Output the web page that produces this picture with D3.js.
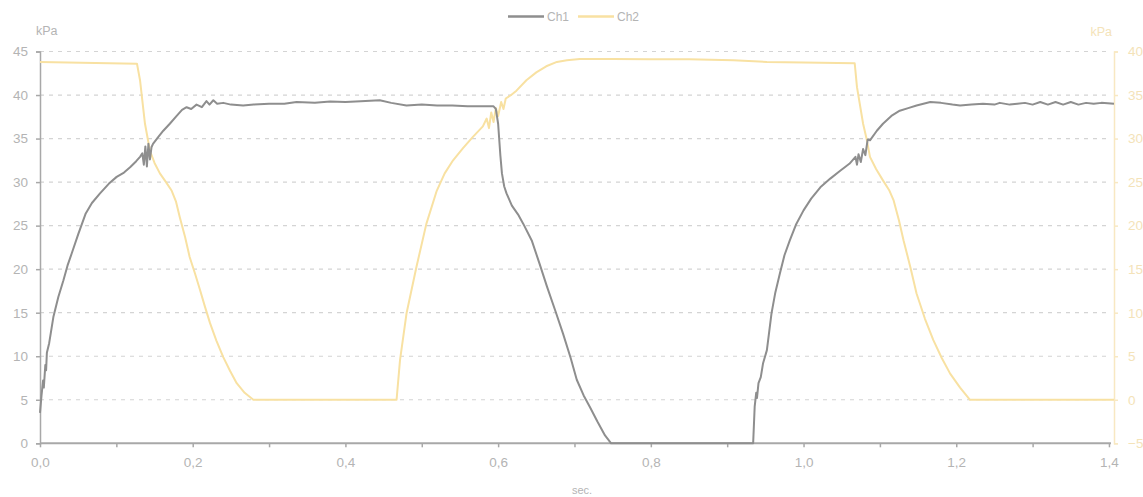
<!DOCTYPE html>
<html>
<head>
<meta charset="utf-8">
<script src="https://cdn.jsdelivr.net/npm/d3@7"></script>
<style>
  body { margin: 0; background: #fff; }
  svg { display: block; font-family: "Liberation Sans", Arial, sans-serif; }
</style>
</head>
<body>
<svg id="chart" width="1143" height="497"></svg>
<script>
// time in sec, Ch1 in kPa (left axis)
const ch1 = [
  [0, 3.5], [0.002, 5.5], [0.004, 7.2], [0.005, 6.4], [0.007, 9.0], [0.008, 8.4], [0.009, 10.4],
  [0.012, 11.5], [0.0175, 14.5], [0.024, 16.8], [0.0306, 18.7], [0.036, 20.4], [0.0415, 21.8],
  [0.05, 24.0], [0.0599, 26.4], [0.068, 27.6], [0.0786, 28.7], [0.09, 29.8], [0.1004, 30.6],
  [0.11, 31.1], [0.118, 31.7], [0.126, 32.4], [0.131, 32.9], [0.134, 33.3], [0.136, 32.0],
  [0.138, 34.1], [0.14, 31.8], [0.142, 34.4], [0.144, 32.6], [0.146, 34.0], [0.148, 34.4],
  [0.155, 35.2], [0.1615, 35.9], [0.17, 36.7], [0.179, 37.6], [0.186, 38.3], [0.192, 38.6],
  [0.198, 38.4], [0.205, 38.9], [0.212, 38.6], [0.218, 39.3], [0.222, 38.9], [0.227, 39.4],
  [0.232, 39.0], [0.24, 39.1], [0.25, 38.9], [0.266, 38.8], [0.28, 38.9], [0.3, 39.0],
  [0.32, 39.0], [0.336, 39.2], [0.36, 39.1], [0.38, 39.25], [0.4, 39.2], [0.42, 39.3],
  [0.445, 39.4], [0.46, 39.1], [0.48, 38.8], [0.5, 38.9], [0.52, 38.8], [0.54, 38.8],
  [0.56, 38.7], [0.58, 38.7], [0.594, 38.7], [0.597, 38.4], [0.6, 36.7], [0.603, 33],
  [0.605, 31], [0.608, 29.5], [0.611, 28.7], [0.618, 27.3], [0.626, 26.3], [0.633, 25.2],
  [0.644, 23.3], [0.654, 20.7], [0.664, 18], [0.675, 15.2], [0.685, 12.6], [0.695, 9.8],
  [0.703, 7.3], [0.712, 5.5], [0.72, 4.2], [0.73, 2.5], [0.74, 0.9], [0.748, 0], [0.934, 0],
  [0.936, 4.2], [0.938, 5.8], [0.939, 5.2], [0.941, 6.9], [0.944, 7.6], [0.947, 9.2],
  [0.952, 10.7], [0.958, 14.9], [0.963, 17.3], [0.969, 19.5], [0.975, 21.6], [0.982, 23.3],
  [0.99, 25.1], [1.0, 26.75], [1.01, 28.1], [1.022, 29.4], [1.035, 30.4], [1.048, 31.3],
  [1.06, 32.1], [1.068, 32.9], [1.07, 32.0], [1.072, 33.2], [1.075, 32.3], [1.078, 33.8],
  [1.081, 33.1], [1.084, 34.9], [1.087, 34.8], [1.096, 35.9], [1.104, 36.7], [1.115, 37.6],
  [1.126, 38.2], [1.137, 38.5], [1.148, 38.8], [1.157, 39.0], [1.166, 39.2], [1.18, 39.1],
  [1.195, 38.9], [1.205, 38.8], [1.22, 38.9], [1.235, 39.0], [1.25, 38.9], [1.257, 39.1],
  [1.27, 38.9], [1.28, 39.0], [1.29, 39.1], [1.3, 38.9], [1.31, 39.2], [1.32, 38.9],
  [1.33, 39.2], [1.34, 38.9], [1.35, 39.2], [1.36, 38.9], [1.37, 39.1], [1.38, 39.0],
  [1.39, 39.1], [1.4066, 39.0]
]

// time in sec, Ch2 in kPa (right axis)
const ch2 = [
  [0, 38.8], [0.127, 38.6], [0.131, 36.7], [0.1375, 31.7], [0.144, 28.6], [0.15, 27.2],
  [0.157, 26], [0.165, 25], [0.1725, 24], [0.178, 22.8], [0.183, 21], [0.19, 18.7],
  [0.196, 16.4], [0.203, 14.5], [0.2096, 12.6], [0.216, 10.7], [0.2227, 8.8], [0.231, 6.8],
  [0.24, 4.9], [0.249, 3.3], [0.2576, 1.9], [0.268, 0.8], [0.2794, 0], [0.467, 0],
  [0.4715, 4.55], [0.48, 9.9], [0.493, 15.25], [0.506, 20.2], [0.5196, 24], [0.53, 26],
  [0.541, 27.5], [0.554, 28.9], [0.567, 30.2], [0.58, 31.4], [0.585, 32.3], [0.588, 31.2],
  [0.591, 33.0], [0.594, 31.9], [0.597, 33.5], [0.6, 32.6], [0.604, 34.2], [0.607, 33.4],
  [0.61, 34.6], [0.617, 35.0], [0.624, 35.5], [0.637, 36.7], [0.65, 37.6], [0.663, 38.3],
  [0.677, 38.8], [0.69, 39.0], [0.707, 39.15], [0.75, 39.15], [0.8, 39.1], [0.85, 39.1],
  [0.908, 39.0], [0.952, 38.8], [1.0, 38.75], [1.067, 38.65], [1.07, 35.9], [1.078, 31.7],
  [1.083, 29.8], [1.087, 27.9], [1.095, 26.5], [1.104, 25.2], [1.112, 24.1], [1.118, 22.9],
  [1.125, 20.6], [1.131, 18.3], [1.14, 15.2], [1.148, 12.2], [1.159, 9.3], [1.17, 6.85],
  [1.181, 4.8], [1.192, 3.0], [1.205, 1.4], [1.218, 0], [1.4066, 0]
]

const xTicks = [0, 0.1, 0.2, 0.3, 0.4, 0.5, 0.6, 0.7, 0.8, 0.9, 1.0, 1.1, 1.2, 1.3, 1.4]
const leftTicks = [0, 5, 10, 15, 20, 25, 30, 35, 40, 45]
const rightTicks = [-5, 0, 5, 10, 15, 20, 25, 30, 35, 40]
const seriesNames = ['Ch1', 'Ch2']

const c1 = '#8e8e8e'
const c2 = '#f8e1a2'
const axisGray = '#a8a8a8'
const labelGray = '#b4b4b4'
const rightLabel = '#f4e3b9'

const svg = d3.select('#chart')
const plotLeft = 40
const plotRight = 1114
const plotTop = 51.5
const plotBottom = 443.3

const x = d3.scaleLinear().domain([0, 1.4066]).range([plotLeft, plotRight])
const yL = d3.scaleLinear().domain([0, 45]).range([plotBottom, plotTop])
const yR = d3.scaleLinear().domain([-5, 40]).range([plotBottom, plotTop])

const fmt = (d) => d3.format('.1f')(d).replace('.', ',')
const fontFam = '"Liberation Sans", Arial, sans-serif'

// grid
svg.append('g')
  .selectAll('line')
  .data(leftTicks.filter((d) => d > 0))
  .join('line')
  .attr('x1', plotLeft)
  .attr('x2', x(1.4))
  .attr('y1', (d) => yL(d))
  .attr('y2', (d) => yL(d))
  .attr('stroke', '#d4d4d4')
  .attr('stroke-width', 1.2)
  .attr('stroke-dasharray', '4,5')

// left axis
const gl = svg.append('g').attr('transform', `translate(${plotLeft},0)`)
  .call(d3.axisLeft(yL).tickValues(leftTicks).tickSize(4).tickPadding(8))
gl.select('.domain').attr('stroke', axisGray).attr('stroke-width', 1.5)
gl.selectAll('.tick line').attr('stroke', axisGray).attr('stroke-width', 1.5)
gl.selectAll('.tick text').attr('fill', labelGray).attr('font-size', 13.5).attr('font-family', fontFam)

// right axis
const gr = svg.append('g').attr('transform', `translate(${plotRight},0)`)
  .call(d3.axisRight(yR).tickValues(rightTicks).tickSize(4).tickPadding(10))
gr.select('.domain').attr('stroke', '#f8e8c2').attr('stroke-width', 1.5)
gr.selectAll('.tick line').attr('stroke', '#f8e8c2').attr('stroke-width', 1.5)
gr.selectAll('.tick text').attr('fill', rightLabel).attr('font-size', 13.5).attr('font-family', fontFam)

// bottom axis
const gb = svg.append('g').attr('transform', `translate(0,${plotBottom})`)
  .call(d3.axisBottom(x).tickValues(xTicks).tickSize(4).tickPadding(10)
    .tickFormat((d, i) => i % 2 === 0 ? fmt(d) : ''))
gb.select('.domain').attr('stroke', axisGray).attr('stroke-width', 2)
  .attr('d', `M${plotLeft},0H${x(1.4) + 2}`)
gb.selectAll('.tick line').attr('stroke', axisGray).attr('stroke-width', 1.5)
gb.selectAll('.tick text').attr('fill', labelGray).attr('font-size', 13.5).attr('font-family', fontFam)

// titles
svg.append('text').attr('x', 36).attr('y', 35).attr('fill', labelGray)
  .attr('font-size', 12.5).text('kPa')
svg.append('text').attr('x', 1112).attr('y', 36).attr('fill', rightLabel)
  .attr('text-anchor', 'end').attr('font-size', 12.5).text('kPa')
svg.append('text').attr('x', 582).attr('y', 494).attr('fill', labelGray)
  .attr('text-anchor', 'middle').attr('font-size', 11).text('sec.')

// lines
const line1 = d3.line().x((d) => x(d[0])).y((d) => yL(d[1]))
const line2 = d3.line().x((d) => x(d[0])).y((d) => yR(d[1]))

svg.append('path').datum(ch2).attr('d', line2)
  .attr('fill', 'none').attr('stroke', c2).attr('stroke-width', 2).attr('stroke-linejoin', 'round')
svg.append('path').datum(ch1).attr('d', line1)
  .attr('fill', 'none').attr('stroke', c1).attr('stroke-width', 2).attr('stroke-linejoin', 'round')

// legend
const legend = svg.append('g')
const legendX = [508, 578]
const legendColors = [c1, c2]
seriesNames.forEach((name, i) => {
  legend.append('line').attr('x1', legendX[i]).attr('x2', legendX[i] + 36)
    .attr('y1', 16.5).attr('y2', 16.5).attr('stroke', legendColors[i]).attr('stroke-width', 2.5)
  legend.append('text').attr('x', legendX[i] + 39).attr('y', 21)
    .attr('fill', labelGray).attr('font-size', 12).text(name)
})
</script>
</body>
</html>
